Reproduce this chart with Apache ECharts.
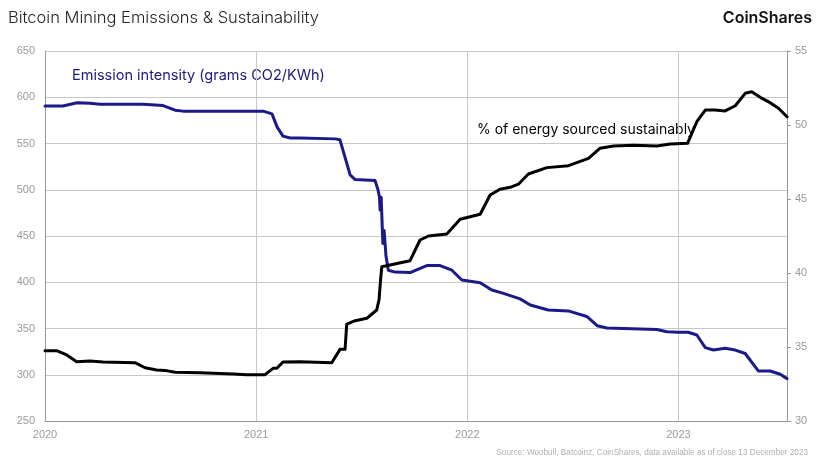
<!DOCTYPE html>
<html>
<head>
<meta charset="utf-8">
<script src="https://cdn.jsdelivr.net/npm/echarts@6/dist/echarts.min.js"></script>
<style>
html,body{margin:0;padding:0;background:#fff;}
#chart{width:828px;height:465px;}
</style>
</head>
<body>
<div id="chart"></div>
<script>
// Decimal-year positions and values
const emissionYears = [2020.000,2020.085,2020.152,2020.213,2020.261,2020.464,2020.559,2020.616,2020.654,2021.033,2021.075,2021.099,2021.127,2021.161,2021.208,2021.374,2021.397,2021.421,2021.445,2021.469,2021.563,2021.577,2021.584,2021.587,2021.592,2021.600,2021.606,2021.615,2021.626,2021.658,2021.729,2021.808,2021.871,2021.927,2021.974,2022.061,2022.116,2022.171,2022.250,2022.298,2022.383,2022.478,2022.566,2022.615,2022.661,2022.898,2022.945,2022.999,2023.046,2023.087,2023.127,2023.166,2023.221,2023.269,2023.316,2023.379,2023.434,2023.482,2023.514];
const emissionValues = [590.5,590.5,594,593.5,592.5,592.5,591,586,585,585,582,568,558,556,556,555,554,535,516,511,510,500,492,478,492,442,456,428,413,411,410.5,418,418,413,402.4,399.5,391.6,388,382,375.4,370,369,363,353,350.6,349,346.5,346,346,343,329.3,326.7,328.6,326.7,323,304,304,300.5,295.8];

const sustainYears = [2020.000,2020.055,2020.103,2020.150,2020.213,2020.275,2020.426,2020.474,2020.529,2020.568,2020.616,2020.734,2020.891,2020.956,2021.042,2021.080,2021.098,2021.127,2021.208,2021.358,2021.397,2021.421,2021.429,2021.469,2021.524,2021.571,2021.582,2021.589,2021.595,2021.611,2021.729,2021.776,2021.816,2021.903,2021.966,2022.061,2022.108,2022.155,2022.203,2022.242,2022.289,2022.377,2022.479,2022.574,2022.629,2022.692,2022.787,2022.898,2022.961,2023.043,2023.087,2023.127,2023.174,2023.221,2023.269,2023.316,2023.347,2023.387,2023.434,2023.474,2023.514];
const sustainValues = [34.75,34.75,34.46,34.0,34.05,33.99,33.94,33.6,33.45,33.42,33.29,33.26,33.18,33.13,33.13,33.56,33.56,33.99,34.0,33.94,34.84,34.84,36.55,36.78,36.94,37.5,38.2,39.5,40.43,40.47,40.83,42.23,42.5,42.64,43.63,43.97,45.27,45.66,45.79,46.0,46.69,47.12,47.25,47.75,48.43,48.58,48.63,48.58,48.72,48.76,50.22,51.01,51.01,50.95,51.3,52.14,52.25,51.87,51.51,51.13,50.56];

const xMin = 2020, xMax = 2023.514;
const leftTicks = [250, 650, 50];
const rightTicks = [30, 55, 5];

const titleText = 'Bitcoin Mining Emissions & Sustainability';
const brandText = 'CoinShares';
const sourceText = 'Source: Woobull, Batcoinz, CoinShares, data available as of close 13 December 2023';
const emissionLabel = 'Emission intensity (grams CO2/KWh)';
const sustainLabel = '% of energy sourced sustainably';

const chart = echarts.init(document.getElementById('chart'), null, {renderer: 'canvas'});
const axisLabelStyle = {color: '#9a9a9a', fontSize: 11, fontFamily: 'Liberation Sans, Arial, sans-serif'};

chart.setOption({
  animation: false,
  backgroundColor: '#fff',
  grid: {left: 45, right: 41, top: 51, bottom: 44},
  xAxis: {
    type: 'value', min: xMin, max: xMax, interval: 1,
    axisLine: {show: true, lineStyle: {color: '#999', width: 1}},
    axisTick: {show: false},
    splitLine: {show: true, lineStyle: {color: '#c8c8c8', width: 1}},
    axisLabel: Object.assign({margin: 8, showMaxLabel: false, formatter: v => (Math.abs(v - Math.round(v)) < 1e-6 ? String(Math.round(v)) : '')}, axisLabelStyle)
  },
  yAxis: [
    {
      type: 'value', min: leftTicks[0], max: leftTicks[1], interval: leftTicks[2],
      axisLine: {show: true, lineStyle: {color: '#999', width: 1}},
      axisTick: {show: false},
      splitLine: {show: true, lineStyle: {color: '#c8c8c8', width: 1}},
      axisLabel: Object.assign({margin: 10}, axisLabelStyle)
    },
    {
      type: 'value', position: 'right', min: rightTicks[0], max: rightTicks[1], interval: rightTicks[2],
      axisLine: {show: true, lineStyle: {color: '#999', width: 1}},
      axisTick: {show: true, length: 4, lineStyle: {color: '#999'}},
      splitLine: {show: false},
      axisLabel: Object.assign({margin: 8}, axisLabelStyle)
    }
  ],
  series: [
    {
      name: emissionLabel, type: 'line', yAxisIndex: 0, showSymbol: false, smooth: false,
      lineStyle: {color: '#1c1a8a', width: 3, join: 'round', cap: 'round'},
      data: emissionYears.map((x, i) => [x, emissionValues[i]])
    },
    {
      name: sustainLabel, type: 'line', yAxisIndex: 1, showSymbol: false, smooth: false,
      lineStyle: {color: '#000', width: 3, join: 'round', cap: 'round'},
      data: sustainYears.map((x, i) => [x, sustainValues[i]])
    }
  ],
  graphic: [
    {type: 'text', left: 8, top: 10, style: {text: titleText, fill: '#222', fontSize: 16.5, fontWeight: 300, fontFamily: 'Inter, Roboto, sans-serif'}},
    {type: 'text', right: 16, top: 10, style: {text: brandText, fill: '#111', fontSize: 16, fontWeight: 600, fontFamily: 'Inter, Roboto, sans-serif'}},
    {type: 'text', right: 20, top: 449, style: {text: sourceText, fill: '#b0b0b0', fontSize: 8.2, fontFamily: 'Liberation Sans, Arial, sans-serif'}},
    {type: 'text', left: 72, top: 68, style: {text: emissionLabel, fill: '#1c1a7a', fontSize: 14.5, fontFamily: 'Inter, Roboto, sans-serif'}},
    {type: 'text', left: 477, top: 123, style: {text: sustainLabel, fill: '#000', fontSize: 14, fontFamily: 'Inter, Roboto, sans-serif'}}
  ]
});
</script>
</body>
</html>
